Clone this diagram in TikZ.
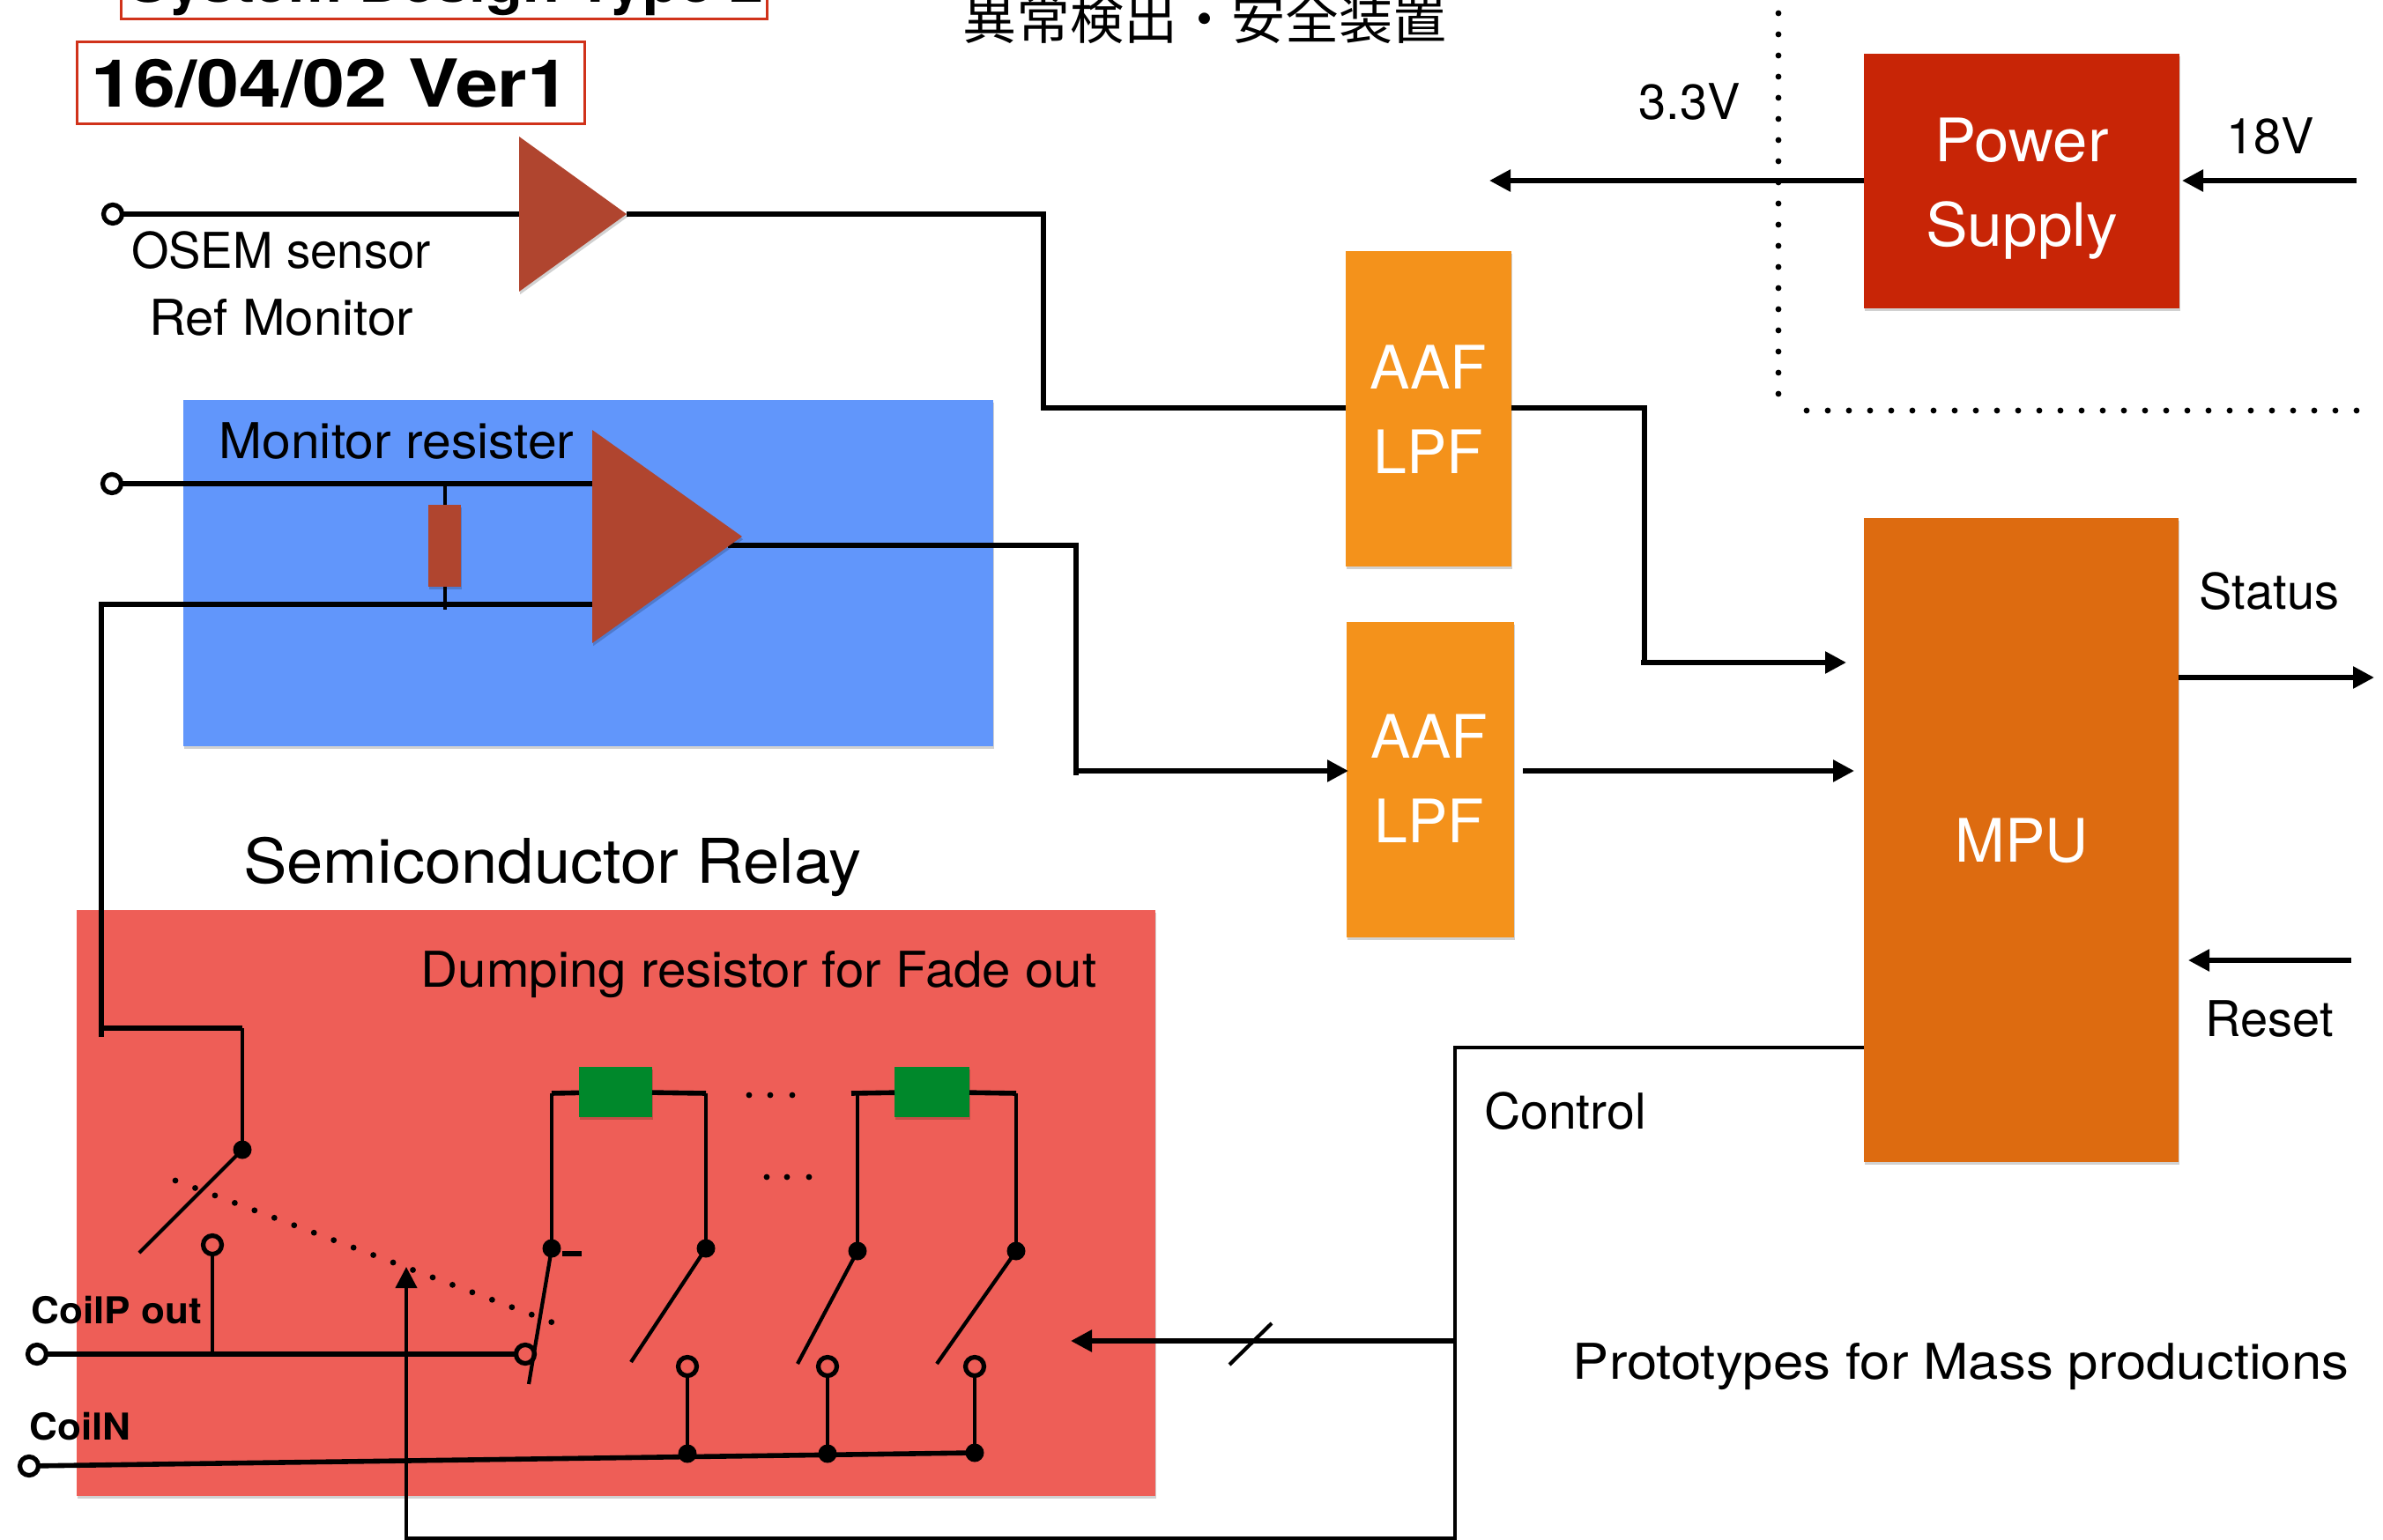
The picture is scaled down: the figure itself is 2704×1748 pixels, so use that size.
\documentclass[tikz,border=0pt]{standalone}
\usepackage{fontspec}
\setmainfont{TeX Gyre Heros}
\newfontfamily\cjkfont{Noto Sans CJK JP}
\usetikzlibrary{arrows.meta,shadows}
\definecolor{amp}{HTML}{B0452F}
\definecolor{blueb}{HTML}{6196FB}
\definecolor{redb}{HTML}{EE5E57}
\definecolor{orb}{HTML}{F4921B}
\definecolor{mpuc}{HTML}{DD6B10}
\definecolor{psc}{HTML}{C82506}
\definecolor{grn}{HTML}{00882B}
\definecolor{frame}{HTML}{D0321A}
\newcommand{\st}[1]{\addfontfeature{FakeStretch=#1}}
\tikzset{
 x=.5pt,y=-.5pt,
 sh/.style={drop shadow={shadow xshift=.6pt,shadow yshift=-1.6pt,opacity=.18,fill=black}},
 wire/.style={line width=2.8pt,black},
 thin wire/.style={line width=2.1pt,black},
 arr/.style={wire,-{Triangle[length=12pt,width=12pt]}},
 ring/.style={circle,draw=black,line width=2.6pt,minimum size=10.5pt,inner sep=0pt,outer sep=0pt},
 dot/.style={circle,fill=black,minimum size=10.5pt,inner sep=0pt,outer sep=0pt},
 tinydot/.style={circle,fill=black,minimum size=3.4pt,inner sep=0pt},
 dotline/.style={line width=3.4pt,line cap=round,dash pattern=on 0pt off 12pt},
 box/.style={fill=#1,sh,inner sep=0pt,outer sep=0pt,anchor=north west},
 lbl/.style={font=\fontsize{28}{32}\selectfont,inner sep=0pt},
 big/.style={font=\fontsize{34}{39}\selectfont,text=white,inner sep=0pt},
 small/.style={font=\fontsize{21}{25}\selectfont\bfseries,inner sep=0pt},
 frm/.style={draw=frame,line width=1.5pt,inner sep=0pt,fill=white},
}
\newcommand{\bx}[6]{\node[box=#6,minimum width=#4*.5pt,minimum height=#5*.5pt] (#1) at (#2,#3) {};}
\begin{document}
\begin{tikzpicture}
\useasboundingbox (0,0) rectangle (2704,1748);
% frames
\node[frm,minimum width=733*.5pt,minimum height=60*.5pt] (titlebox) at (504,-8) {};
\node[anchor=base,font=\fontsize{35}{40}\selectfont\bfseries\st{.98},inner sep=0pt] (titletext) at (506,3) {System Design Type 2};
\node[frm,minimum width=576*.5pt,minimum height=93*.5pt] (verbox) at (375,94.5) {};
\node[font=\fontsize{37.5}{40}\selectfont\bfseries\st{1.15},inner sep=0pt] (vertext) at (375,95) {16/04/02 Ver1};
\node[font=\cjkfont\fontsize{30.5}{34}\selectfont,inner sep=0pt] (jp) at (1367,21) {異常検出・安全装置};
% background boxes
\bx{blue}{208}{454}{919}{393}{blueb}
\bx{red}{87}{1033}{1224}{665}{redb}
\bx{aafa}{1527}{285}{188}{358}{orb}
\bx{aafb}{1528}{706}{190}{358}{orb}
\bx{mpu}{2115}{588}{357}{731}{mpuc}
\bx{ps}{2115}{61}{358}{289}{psc}
% dotted boundary
\coordinate (da) at (2018,15); \coordinate (db) at (2018,447);
\coordinate (dc) at (2050,466); \coordinate (dd) at (2680,466);
\draw[dotline] (da) -- (db);
\draw[dotline] (dc) -- (dd);
% box labels
\node[big,font=\fontsize{34}{39}\selectfont\st{1.04}] at (2294,159) {Power};
\node[big,font=\fontsize{34}{39}\selectfont\st{1.05}] at (2294,262) {Supply};
\node[big] at (1621,417) {AAF};
\node[big] at (1621,513) {LPF};
\node[big] at (1622,836) {AAF};
\node[big] at (1622,932) {LPF};
\node[big] at (2294,954) {MPU};
% labels
\node[lbl,font=\fontsize{28}{32}\selectfont\st{.975},anchor=base] at (319,305) {OSEM sensor};
\node[lbl,font=\fontsize{28}{32}\selectfont\st{1.04},anchor=base] at (319,381) {Ref Monitor};
\node[lbl,font=\fontsize{28}{32}\selectfont\st{1.05},anchor=base] at (450,521) {Monitor resister};
\node[lbl] at (1917,116) {3.3V};
\node[lbl] at (2576,155) {18V};
\node[lbl] at (2575,671) {Status};
\node[lbl] at (2575,1157) {Reset};
\node[lbl,font=\fontsize{28}{32}\selectfont\st{1.02}] at (1776,1261) {Control};
\node[lbl,font=\fontsize{28}{32}\selectfont\st{1.10}] at (2225,1551) {Prototypes for Mass productions};
\node[lbl,font=\fontsize{35}{40}\selectfont\st{1.06}] at (627,984) {Semiconductor Relay};
\node[lbl,font=\fontsize{28}{32}\selectfont\st{1.04}] at (861,1106) {Dumping resistor for Fade out};
\node[small,font=\fontsize{21}{25}\selectfont\bfseries\st{1.05},anchor=base west] at (35,1502) {CoilP out};
\node[small,font=\fontsize{21}{25}\selectfont\bfseries\st{1.05},anchor=base west] at (33,1634) {CoilN};
% terminals
\node[ring] (t1) at (128,243) {};
\node[ring] (t2) at (127,549) {};
\node[ring] (cp) at (42,1537) {};
\node[ring] (cn) at (33,1664) {};
% coordinates
\coordinate (a1in) at (589,243); \coordinate (a1tip) at (711,243);
\coordinate (a1c) at (1184,243); \coordinate (a1d) at (1184,463); \coordinate (aaf1l) at (1527,463);
\coordinate (aaf1r) at (1715,463); \coordinate (aaf1c) at (1866,463); \coordinate (aaf1d) at (1866,752);
\coordinate (st1) at (1862,752); \coordinate (mpu1) at (2095,752);
\coordinate (a2p) at (672,549); \coordinate (a2n) at (672,686); \coordinate (a2o) at (826,619);
\coordinate (o2c) at (1221,619); \coordinate (o2d) at (1221,875); \coordinate (o2st) at (1221,880); \coordinate (aaf2l) at (1530,875);
\coordinate (aaf2o) at (1728,875); \coordinate (mpu2) at (2104,875);
\coordinate (bl) at (115,686); \coordinate (bd) at (115,1167); \coordinate (bs) at (115,1177); \coordinate (be) at (275,1167);
\coordinate (ra) at (505,549); \coordinate (rb) at (505,692);
\coordinate (pso) at (2115,205); \coordinate (v33) at (1690,205); \coordinate (v18a) at (2674,205); \coordinate (v18b) at (2476,205);
\coordinate (sta) at (2472,769); \coordinate (stb) at (2694,769);
\coordinate (rea) at (2668,1090); \coordinate (reb) at (2483,1090);
\coordinate (ca) at (2115,1189); \coordinate (cb) at (1651,1189); \coordinate (cc) at (1651,1746); \coordinate (cd) at (461,1746); \coordinate (ce) at (461,1438);
\coordinate (cf) at (1651,1522); \coordinate (cg) at (1215,1522);
\coordinate (sa) at (1395,1549); \coordinate (sb) at (1443,1502);
% top wires
\draw[wire] (t1) -- (a1in);
\draw[wire] (a1tip) -- (a1c) -- (a1d) -- (aaf1l);
\draw[wire] (aaf1r) -- (aaf1c) -- (aaf1d);
\draw[arr] (st1) -- (mpu1);
\draw[wire] (t2) -- (a2p);
\draw[wire] (bs) -- (bd);
\draw[wire] (a2n) -- (bl) -- (bd) -- (be);
\draw[thin wire] (ra) -- (rb);
\draw[wire] (a2o) -- (o2c) -- (o2st);
\draw[arr] (o2d) -- (aaf2l);
\draw[arr] (aaf2o) -- (mpu2);
\draw[arr] (pso) -- (v33);
\draw[arr] (v18a) -- (v18b);
\draw[arr] (sta) -- (stb);
\draw[arr] (rea) -- (reb);
% amplifiers, resistor
\fill[amp,sh] (589,155) -- (711,243) -- (589,331) -- cycle;
\fill[amp,sh] (672,488) -- (842,609) -- (672,730) -- cycle;
\bx{rm}{486}{573}{37}{93}{amp}
% relay section
\bx{g1}{657}{1211}{83}{57}{grn}
\bx{g2}{1015}{1211}{85}{57}{grn}
\node[dot] (s0) at (275,1305) {};
\node[dot] (s1) at (626,1417) {};
\node[dot] (s2) at (801,1417) {};
\node[dot] (s3) at (973,1420) {};
\node[dot] (s4) at (1153,1420) {};
\node[ring] (r0) at (241,1413) {};
\node[ring] (r1) at (596,1537) {};
\node[ring] (r2) at (780,1551) {};
\node[ring] (r3) at (939,1551) {};
\node[ring] (r4) at (1106,1551) {};
\node[dot] (j2) at (780,1650) {};
\node[dot] (j3) at (939,1650) {};
\node[dot] (j4) at (1106,1649) {};
\coordinate (b0) at (158,1422); \coordinate (b1) at (600,1571); \coordinate (b2) at (716,1546);
\coordinate (b3) at (905,1548); \coordinate (b4) at (1063,1548);
\coordinate (h1) at (626,1241); \coordinate (h2) at (801,1241); \coordinate (h3) at (966,1241);
\coordinate (h4) at (973,1241); \coordinate (h5) at (1153,1241);
\coordinate (mk1) at (638,1423); \coordinate (mk2) at (660,1423);
\coordinate (j0) at (241,1537);
\coordinate (ga) at (199,1340); \coordinate (gb) at (632,1503);
\draw[thin wire] (be) -- (s0.center);
\draw[thin wire] (s0.center) -- (b0);
\draw[thin wire] (r0) -- (j0);
\draw[wire] (cp) -- (r1);
\draw[thin wire] (s1.center) -- (b1);
\draw[thin wire] (s2.center) -- (b2);
\draw[thin wire] (s3.center) -- (b3);
\draw[thin wire] (s4.center) -- (b4);
\draw[thin wire] (s1.center) -- (h1);
\draw[wire] (h1) -- (g1);
\draw[wire] (g1) -- (h2);
\draw[thin wire] (h2) -- (s2.center);
\draw[thin wire] (h4) -- (s3.center);
\draw[wire] (h3) -- (g2);
\draw[wire] (g2) -- (h5);
\draw[thin wire] (h5) -- (s4.center);
\draw[wire] (mk1) -- (mk2);
\draw[thin wire] (r2) -- (j2.center);
\draw[thin wire] (r3) -- (j3.center);
\draw[thin wire] (r4) -- (j4.center);
\draw[wire] (cn) -- (j4.center);
\draw[dotline] (ga) -- (gb);
\node[tinydot] at (850,1243) {};
\node[tinydot] at (874,1243) {};
\node[tinydot] at (899,1243) {};
\node[tinydot] at (870,1336) {};
\node[tinydot] at (893,1336) {};
\node[tinydot] at (918,1336) {};
% control
\draw[thin wire,-{Triangle[length=12pt,width=12pt]}] (ca) -- (cb) -- (cc) -- (cd) -- (ce);
\draw[arr] (cf) -- (cg);
\draw[thin wire] (sa) -- (sb);
\end{tikzpicture}
\end{document}
